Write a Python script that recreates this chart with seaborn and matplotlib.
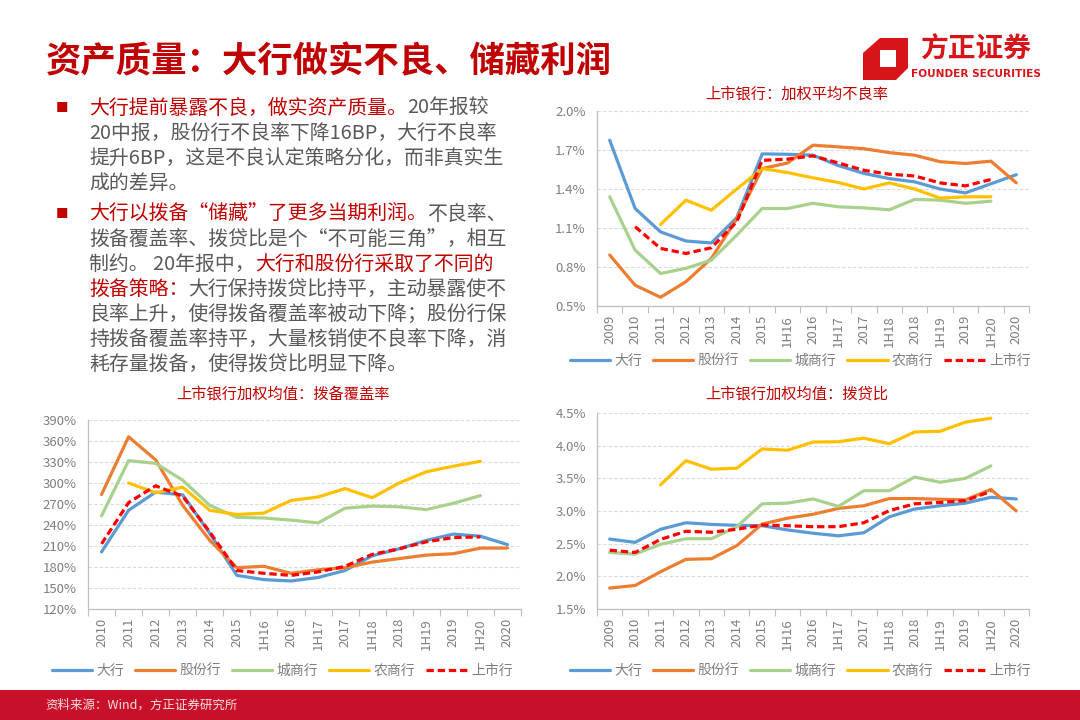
import numpy as np
import pandas as pd
import matplotlib
matplotlib.use('Agg')
import matplotlib.pyplot as plt
import seaborn as sns
from matplotlib.patches import Rectangle, Polygon

sns.set_theme(style='white')
plt.rcParams['font.family'] = ['Noto Sans CJK SC', 'DejaVu Sans']
plt.rcParams['axes.unicode_minus'] = False

# ---------------- data ----------------
series_names = ['大行', '股份行', '城商行', '农商行', '上市行']
series_colors = ['#5B9BD5', '#ED7D31', '#A9D18E', '#FFC000', '#FF0000']

cats_17 = ['2009', '2010', '2011', '2012', '2013', '2014', '2015', '1H16', '2016',
           '1H17', '2017', '1H18', '2018', '1H19', '2019', '1H20', '2020']
cats_16 = ['2010', '2011', '2012', '2013', '2014', '2015', '1H16', '2016',
           '1H17', '2017', '1H18', '2018', '1H19', '2019', '1H20', '2020']

nan = np.nan
# 加权平均不良率 (%)
npl_big = [1.775, 1.25, 1.07, 1.00, 0.985, 1.18, 1.67, 1.667, 1.66, 1.58, 1.52, 1.48, 1.455, 1.40, 1.37, 1.44, 1.51]
npl_jsb = [0.892, 0.66, 0.567, 0.687, 0.866, 1.17, 1.557, 1.60, 1.737, 1.724, 1.71, 1.68, 1.66, 1.61, 1.596, 1.614, 1.447]
npl_city = [1.34, 0.93, 0.75, 0.79, 0.853, 1.045, 1.25, 1.25, 1.29, 1.263, 1.255, 1.24, 1.32, 1.314, 1.29, 1.306, nan]
npl_rural = [nan, nan, 1.127, 1.314, 1.237, 1.40, 1.557, 1.526, 1.486, 1.45, 1.40, 1.447, 1.40, 1.33, 1.34, 1.34, nan]
npl_listed = [nan, 1.11, 0.943, 0.904, 0.948, 1.148, 1.62, 1.63, 1.655, 1.60, 1.544, 1.514, 1.50, 1.447, 1.424, 1.473, nan]

# 拨备覆盖率 (%)
cov_big = [201.5, 261, 287, 283, 228, 168, 162, 160, 165, 175, 196, 206, 218, 227, 224, 212]
cov_jsb = [283.6, 366, 333, 268, 218, 179, 181, 171, 176, 179, 187, 192, 197, 199, 207, 207]
cov_city = [253, 332, 328, 304, 268, 251, 250, 247, 243, 264, 267, 266, 262, 271, 282, nan]
cov_rural = [nan, 300, 286, 294, 261, 255, 257, 275, 280, 292, 279, 300, 316, 324, 331, nan]
cov_listed = [213, 272, 296, 281, 230, 175, 171, 168, 173, 181, 198, 206, 216, 222, 223, nan]

# 拨贷比 (%)
ldr_big = [2.57, 2.52, 2.72, 2.82, 2.795, 2.78, 2.775, 2.71, 2.66, 2.62, 2.667, 2.91, 3.03, 3.08, 3.12, 3.21, 3.185]
ldr_jsb = [1.82, 1.86, 2.07, 2.26, 2.27, 2.47, 2.80, 2.89, 2.95, 3.04, 3.08, 3.19, 3.19, 3.18, 3.17, 3.33, 3.00]
ldr_city = [2.365, 2.34, 2.49, 2.575, 2.575, 2.76, 3.11, 3.12, 3.185, 3.07, 3.31, 3.31, 3.52, 3.44, 3.50, 3.69, nan]
ldr_rural = [nan, nan, 3.40, 3.77, 3.64, 3.655, 3.95, 3.93, 4.055, 4.06, 4.115, 4.03, 4.21, 4.22, 4.36, 4.42, nan]
ldr_listed = [2.40, 2.365, 2.565, 2.69, 2.675, 2.72, 2.785, 2.775, 2.76, 2.76, 2.82, 3.005, 3.11, 3.13, 3.16, 3.30, nan]

npl_ticks = [0.5, 0.8, 1.1, 1.4, 1.7, 2.0]
cov_ticks = [120, 150, 180, 210, 240, 270, 300, 330, 360, 390]
ldr_ticks = [1.5, 2.0, 2.5, 3.0, 3.5, 4.0, 4.5]

RED = '#C00000'
GRAY = '#595959'
TICK = '#7F7F7F'
AXC = '#BFBFBF'

W, H = 1080, 720
fig = plt.figure(figsize=(10.8, 7.2), dpi=100)
fig.patch.set_facecolor('white')

# background axes in pixel coordinates
bg = fig.add_axes([0, 0, 1, 1])
bg.set_xlim(0, W)
bg.set_ylim(H, 0)
bg.axis('off')


def ax_rect(l, r, t, b):
    return [l / W, 1 - b / H, (r - l) / W, (b - t) / H]


def draw_chart(ax, cats, data_list, ticks, fmt, leg_xy):
    x = np.arange(len(cats))
    for name, color, vals in zip(series_names, series_colors, data_list):
        df = pd.DataFrame({'x': x, 'v': vals}).dropna()
        ls = (0, (2.3, 1.2)) if name == '上市行' else '-'
        sns.lineplot(data=df, x='x', y='v', ax=ax, color=color, lw=2.3,
                     linestyle=ls, label=name, sort=False)
    ax.set_xlim(-0.5, len(cats) - 0.5)
    ax.set_ylim(ticks[0], ticks[-1])
    ax.set_yticks(ticks)
    ax.set_yticklabels([fmt(t) for t in ticks])
    ax.set_xticks(x)
    ax.set_xticklabels(cats, rotation=90)
    ax.set_xticks(np.arange(len(cats) + 1) - 0.5, minor=True)
    ax.tick_params(axis='x', which='major', length=0, pad=6.5, labelsize=9.5, labelcolor=TICK)
    ax.tick_params(axis='x', which='minor', length=5, width=0.8, color=AXC, direction='out', bottom=True)
    ax.tick_params(axis='y', which='both', length=0, pad=8, labelsize=9.5, labelcolor=TICK)
    ax.set_xlabel('')
    ax.set_ylabel('')
    ax.yaxis.grid(True, color='#D9D9D9', linestyle=(0, (3, 2)), lw=0.8)
    ax.xaxis.grid(False)
    ax.set_axisbelow(True)
    for s in ['top', 'right']:
        ax.spines[s].set_visible(False)
    for s in ['left', 'bottom']:
        ax.spines[s].set_color(AXC)
        ax.spines[s].set_linewidth(0.9)
    ax.set_facecolor('none')
    ax.legend(loc='center', bbox_to_anchor=leg_xy, ncol=5, frameon=False,
              handlelength=2.9, handletextpad=0.3, columnspacing=0.8,
              fontsize=10, labelcolor=TICK)


# top-right: NPL ratio
ax1 = fig.add_axes(ax_rect(597, 1029, 111, 306))
draw_chart(ax1, cats_17, [npl_big, npl_jsb, npl_city, npl_rural, npl_listed],
           npl_ticks, lambda t: f'{t:.1f}%', (0.47, -0.282))
# bottom-left: coverage
ax2 = fig.add_axes(ax_rect(88, 521, 420, 609))
draw_chart(ax2, cats_16, [cov_big, cov_jsb, cov_city, cov_rural, cov_listed],
           cov_ticks, lambda t: f'{t:.0f}%', (0.448, -0.328))
# bottom-right: LDR
ax3 = fig.add_axes(ax_rect(597, 1029, 413, 609))
draw_chart(ax3, cats_17, [ldr_big, ldr_jsb, ldr_city, ldr_rural, ldr_listed],
           ldr_ticks, lambda t: f'{t:.1f}%', (0.47, -0.316))

# chart titles
bg.text(797, 94, '上市银行：加权平均不良率', color=RED, fontsize=11, ha='center', va='center')
bg.text(283, 394, '上市银行加权均值：拨备覆盖率', color=RED, fontsize=11, ha='center', va='center')
bg.text(797, 394, '上市银行加权均值：拨贷比', color=RED, fontsize=11, ha='center', va='center')

# slide title
bg.text(46, 62, '资产质量：大行做实不良、储藏利润', color=RED, fontsize=25.5,
        fontweight='bold', ha='left', va='center')

# logo
bg.add_patch(Polygon([(880, 38), (908, 38), (908, 68), (896, 80), (863, 80), (863, 53)],
                     closed=True, color='#D7141A', lw=0))
bg.add_patch(Polygon([(880, 50), (896, 50), (896, 67), (880, 67)], closed=True, color='white', lw=0))
bg.text(976, 50, '方正证券', color='#D7141A', fontsize=20, fontweight='bold', ha='center', va='center')
bg.text(976, 74, 'FOUNDER SECURITIES', color='#D7141A', fontsize=7.6, fontweight='bold',
        ha='center', va='center', family=['DejaVu Sans'])

# body text
FS = 14.3
para1 = [
    [('大行提前暴露不良，做实资产质量。', RED), ('20年报较', GRAY)],
    [('20中报，股份行不良率下降16BP，大行不良率', GRAY)],
    [('提升6BP，这是不良认定策略分化，而非真实生', GRAY)],
    [('成的差异。', GRAY)],
]
para2 = [
    [('大行以拨备“储藏”了更多当期利润。', RED), ('不良率、', GRAY)],
    [('拨备覆盖率、拨贷比是个“不可能三角”，相互', GRAY)],
    [('制约。 20年报中，', GRAY), ('大行和股份行采取了不同的', RED)],
    [('拨备策略：', RED), ('大行保持拨贷比持平，主动暴露使不', GRAY)],
    [('良率上升，使得拨备覆盖率被动下降；股份行保', GRAY)],
    [('持拨备覆盖率持平，大量核销使不良率下降，消', GRAY)],
    [('耗存量拨备，使得拨贷比明显下降。', GRAY)],
]


def draw_para(lines, y0, dy=25):
    bg.text(62, y0, '■', color=RED, fontsize=9, ha='center', va='center')
    for i, segs in enumerate(lines):
        y = y0 + i * dy
        t = bg.text(89, y, segs[0][0], color=segs[0][1], fontsize=FS, ha='left', va='center')
        for txt, col in segs[1:]:
            t = bg.annotate(txt, xy=(1, 0), xycoords=t, color=col, fontsize=FS,
                            ha='left', va='bottom')


draw_para(para1, 108)
draw_para(para2, 214)

# footer bar
bg.add_patch(Rectangle((0, 690), W, 30, color='#C8102A', lw=0))
bg.text(45, 705, '资料来源：Wind，方正证券研究所', color='#F4E0E0', fontsize=9,
        style='italic', ha='left', va='center')

fig.savefig('out.png', dpi=100, facecolor='white')
